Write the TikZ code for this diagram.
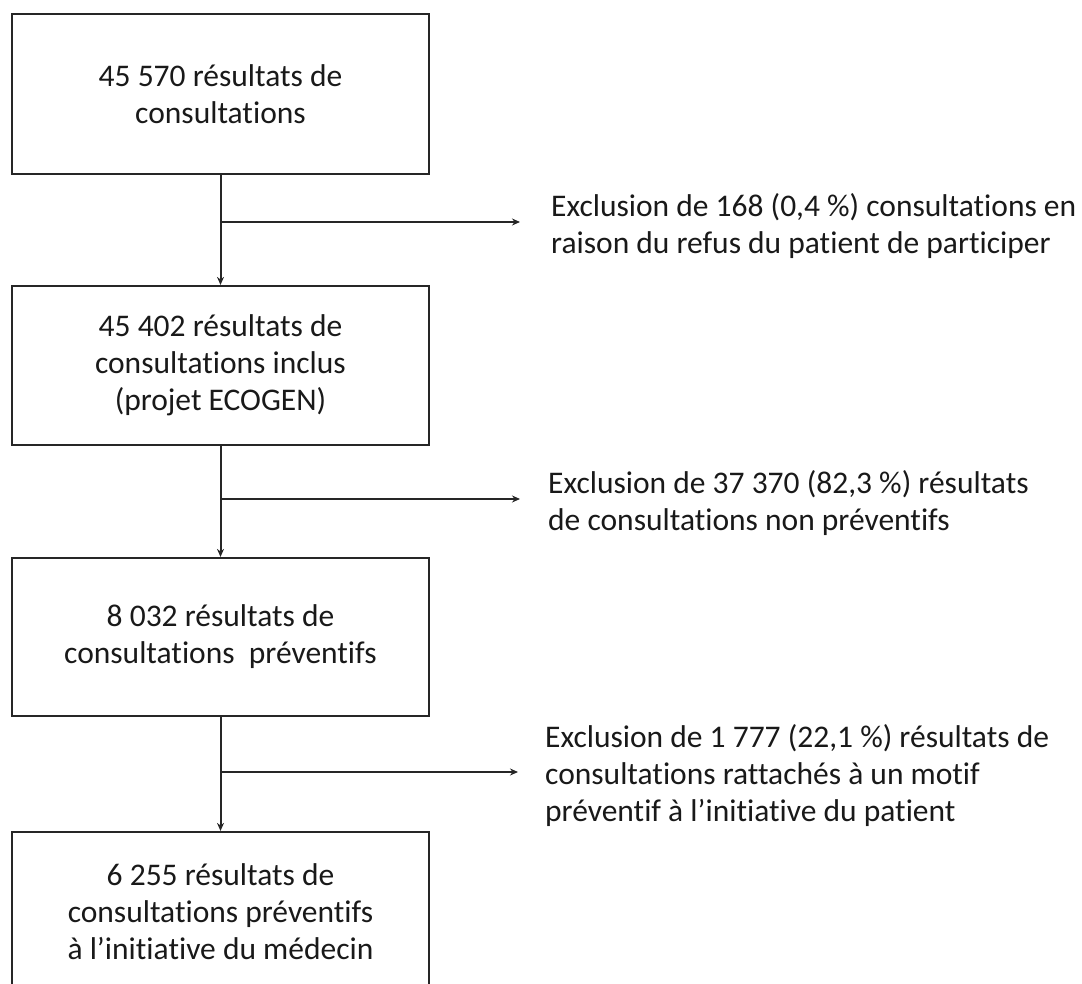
\documentclass[tikz,border=0pt]{standalone}
\usepackage{fontspec}
\setmainfont[Ligatures=NoCommon]{Carlito}
\usetikzlibrary{arrows.meta}
\begin{document}
\begin{tikzpicture}[x=1pt,y=-1pt,
  flowbox/.style={draw=black!85,line width=2.2pt,minimum width=417pt,inner sep=0pt,
    align=center,font=\fontsize{31.5}{37}\selectfont,text=black!90},
  exctext/.style={anchor=west,inner sep=0pt,align=left,
    font=\fontsize{31.5}{37}\selectfont,text=black!90},
  conn/.style={draw=black!85,line width=2pt},
  arr/.style={conn,-{Stealth[length=8pt,width=7pt]}}]
\useasboundingbox (0,0) rectangle (1082,983);
\node[flowbox,minimum height=160pt] (b1) at (220.5,94) {45 570 résultats de\\consultations};
\node[flowbox,minimum height=159pt] (b2) at (220.5,365.5) {45 402 résultats de\\consultations inclus\\(projet\ ECOGEN)};
\node[flowbox,minimum height=158pt] (b3) at (220.5,637) {8 032 résultats de\\consultations\ \ préventifs};
\node[flowbox,minimum height=160pt] (b4) at (220.5,912) {6 255 résultats de\\consultations préventifs\\à l’initiative du médecin};
\coordinate (e1) at (520,222);
\coordinate (e2) at (520,499);
\coordinate (e3) at (518,772);
\node[exctext] (t1) at (551,226) {Exclusion de 168 (0,4 \%) consultations en\\raison du refus du patient de participer};
\node[exctext] (t2) at (548,503) {Exclusion de 37 370 (82,3 \%) résultats\\de consultations non préventifs};
\node[exctext] (t3) at (545,776) {Exclusion de 1 777 (22,1 \%) résultats de\\consultations rattachés à un motif\\préventif à l’initiative du patient};
\draw[arr] (b1.south) -- (b2.north);
\draw[arr] (b2.south) -- (b3.north);
\draw[arr] (b3.south) -- (b4.north);
\draw[arr] (b1.south |- e1) -- (e1);
\draw[arr] (b2.south |- e2) -- (e2);
\draw[arr] (b3.south |- e3) -- (e3);
\end{tikzpicture}
\end{document}
